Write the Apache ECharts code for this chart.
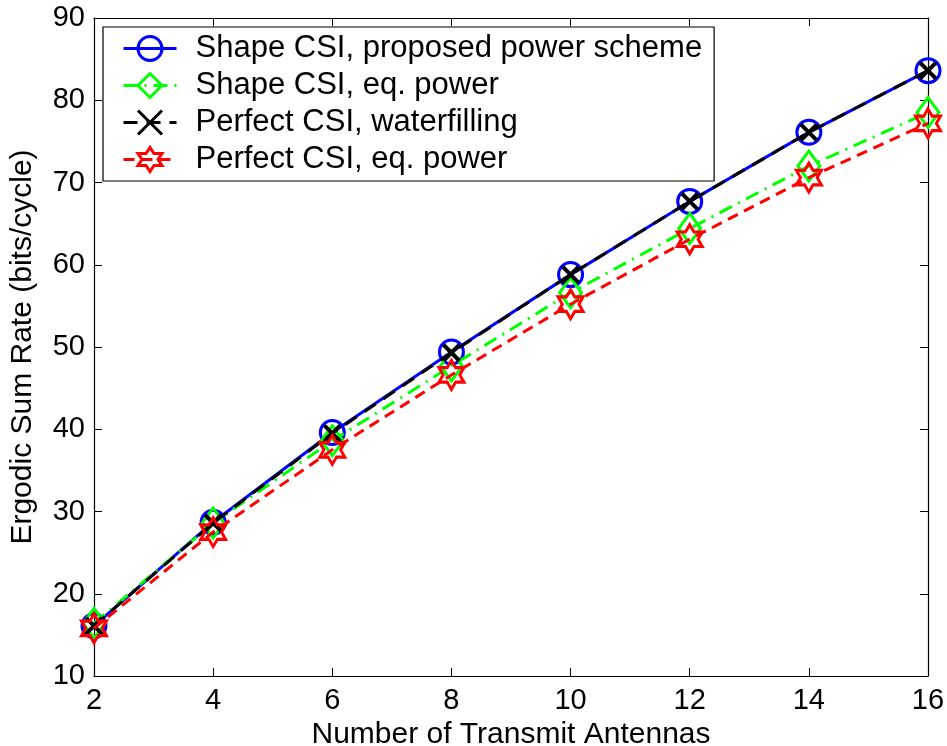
<!DOCTYPE html>
<html>
<head>
<meta charset="utf-8">
<script src="https://cdn.jsdelivr.net/npm/echarts@6/dist/echarts.min.js"></script>
<style>
  html, body { margin: 0; padding: 0; background: #fff; }
  #chart { width: 947px; height: 746px; }
</style>
</head>
<body>
<div id="chart"></div>
<script>
// antennas on x axis
var antennas = [2, 4, 6, 8, 10, 12, 14, 16];

// sum rates
var shapeProposed = [16.1, 28.7, 39.6, 49.4, 58.8, 67.7, 76.1, 83.6];
var shapeEqPower  = [16.4, 28.6, 38.6, 47.7, 56.6, 64.4, 72.0, 78.5];
var perfectWater  = [16.1, 28.6, 39.5, 49.3, 58.8, 67.7, 76.1, 83.6];
var perfectEq     = [15.8, 27.5, 37.5, 46.6, 55.2, 63.1, 70.6, 77.2];

var seriesNames = [
    'Shape CSI, proposed power scheme',
    'Shape CSI, eq. power',
    'Perfect CSI, waterfilling',
    'Perfect CSI, eq. power'
];

var font = 'Liberation Sans, Arial, Helvetica, sans-serif';

var starPath = 'path://M87 0 L116 50 L174 50 L145 100 L174 150 L116 150 L87 200 L58 150 L0 150 L29 100 L0 50 L58 50 Z';
var crossPath = 'path://M0 0 L10 10 M10 0 L0 10';

function pairs(ys) {
    return antennas.map(function (x, i) { return [x, ys[i]]; });
}

var chart = echarts.init(document.getElementById('chart'));

var option = {
    animation: false,
    backgroundColor: '#fff',
    grid: { left: 94, right: 19, top: 18, bottom: 70, outerBoundsMode: 'none', containLabel: false },
    legend: {
        orient: 'vertical',
        left: 103,
        top: 27,
        padding: [6, 12, 6, 19],
        itemWidth: 53,
        itemHeight: 30,
        itemGap: 6,
        borderColor: '#000',
        borderWidth: 1.2,
        backgroundColor: '#fff',
        lineStyle: { width: 3 },
        itemStyle: { borderWidth: 3 },
        textStyle: { fontFamily: font, fontSize: 31, lineHeight: 31, color: '#000', padding: [0, 0, 0, 14] },
        data: seriesNames
    },
    xAxis: [{
        type: 'value',
        min: 2, max: 16, interval: 2,
        name: 'Number of Transmit Antennas',
        nameLocation: 'middle',
        nameGap: 35,
        nameTextStyle: { fontFamily: font, fontSize: 30, color: '#000' },
        axisLine: { lineStyle: { color: '#000', width: 1.2 } },
        axisTick: { inside: true, length: 8, lineStyle: { color: '#000' } },
        axisLabel: { fontFamily: font, fontSize: 29, color: '#000', margin: 10 },
        splitLine: { show: false }
    }, {
        type: 'value', position: 'top',
        min: 2, max: 16, interval: 2,
        axisLine: { show: true, lineStyle: { color: '#000', width: 1.2 } },
        axisTick: { inside: true, length: 8, lineStyle: { color: '#000' } },
        axisLabel: { show: false },
        splitLine: { show: false }
    }],
    yAxis: [{
        type: 'value',
        min: 10, max: 90, interval: 10,
        name: 'Ergodic Sum Rate (bits/cycle)',
        nameLocation: 'middle',
        nameGap: 56,
        nameTextStyle: { fontFamily: font, fontSize: 30, color: '#000' },
        axisLine: { show: true, lineStyle: { color: '#000', width: 1.2 } },
        axisTick: { inside: true, length: 8, lineStyle: { color: '#000' } },
        axisLabel: { fontFamily: font, fontSize: 29, color: '#000', margin: 9 },
        splitLine: { show: false }
    }, {
        type: 'value', position: 'right',
        min: 10, max: 90, interval: 10,
        axisLine: { show: true, lineStyle: { color: '#000', width: 1.2 } },
        axisTick: { inside: true, length: 8, lineStyle: { color: '#000' } },
        axisLabel: { show: false },
        splitLine: { show: false }
    }],
    series: [{
        name: seriesNames[0],
        type: 'line',
        data: pairs(shapeProposed),
        symbol: 'circle',
        symbolSize: 24,
        itemStyle: { color: 'rgba(0,0,0,0)', borderColor: '#0000ff', borderWidth: 3 },
        lineStyle: { color: '#0000ff', width: 3 },
        z: 2
    }, {
        name: seriesNames[1],
        type: 'line',
        data: pairs(shapeEqPower),
        symbol: 'diamond',
        symbolSize: [22, 30],
        itemStyle: { color: 'rgba(0,0,0,0)', borderColor: '#00ff00', borderWidth: 3 },
        lineStyle: { color: '#00ff00', width: 3, type: [14, 7, 2, 7] },
        z: 3
    }, {
        name: seriesNames[2],
        type: 'line',
        data: pairs(perfectWater),
        symbol: crossPath,
        symbolSize: 16,
        itemStyle: { color: 'rgba(0,0,0,0)', borderColor: '#000', borderWidth: 4 },
        lineStyle: { color: '#000', width: 3, type: [14, 9] },
        z: 4
    }, {
        name: seriesNames[3],
        type: 'line',
        data: pairs(perfectEq),
        symbol: starPath,
        symbolSize: [25, 29],
        itemStyle: { color: 'rgba(0,0,0,0)', borderColor: '#ff0000', borderWidth: 3 },
        lineStyle: { color: '#ff0000', width: 3, type: [11, 7] },
        z: 5
    }]
};

chart.setOption(option);
</script>
</body>
</html>
